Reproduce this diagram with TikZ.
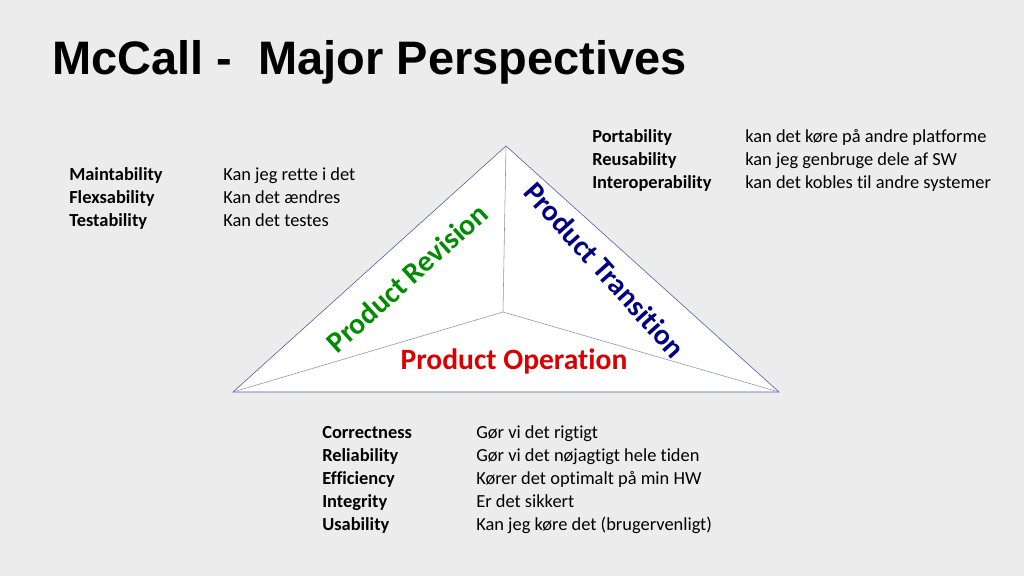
\documentclass[tikz,border=0pt]{standalone}
\usepackage{fontspec}
\setmainfont{Carlito}[Ligatures=NoCommon]
\newfontfamily\titlefont{Liberation Sans}
\begin{document}
\begin{tikzpicture}[x=0.025cm,y=-0.025cm,
  txt/.style={anchor=base west,inner sep=0pt,font=\fontsize{13.1}{16}\selectfont},
  lbl/.style={txt,font=\fontsize{13.1}{16}\selectfont\bfseries},
  side/.style={font=\fontsize{21}{24}\selectfont\bfseries,inner sep=0pt}]
  \fill[gray!15] (0,0) rectangle (1024,576);
  \useasboundingbox (0,0) rectangle (1024,576);
  \node[anchor=west,inner sep=0pt,font=\titlefont\fontsize{33.4}{36}\selectfont\bfseries] (title) at (52,62) {McCall -\ \ Major Perspectives};
  \path
    (506,146) coordinate (T)
    (233,392) coordinate (L)
    (779,392) coordinate (R)
    (503,312) coordinate (M);
  \draw[fill=white,draw=blue!35!gray] (T)--(L)--(R)--cycle;
  \draw[blue!25!gray!70] (M)--(T) (M)--(L) (M)--(R);
  \node[side,text=green!55!black,rotate=42] (rev) at (407,278) {Product Revision};
  \node[side,text=blue!50!black,rotate=-48] (tra) at (605,270) {Product Transition};
  \node[side,text=red!85!black] (ope) at (514,361) {Product Operation};
  % quality factors
  \foreach \n/\b [count=\i] in {Maintability/Kan jeg rette i det,Flexsability/Kan det ændres,Testability/Kan det testes}
    {\node[lbl] (rf\i) at (69,{181+23*(\i-1)}) {\n};
     \node[txt] (rq\i) at (223,{181+23*(\i-1)}) {\b};}
  \foreach \n/\b [count=\i] in {Portability/kan det køre på andre platforme,Reusability/kan jeg genbruge dele af SW,Interoperability/kan det kobles til andre systemer}
    {\node[lbl] (tf\i) at (592,{143+23*(\i-1)}) {\n};
     \node[txt] (tq\i) at (745,{143+23*(\i-1)}) {\b};}
  \foreach \n/\b [count=\i] in {Correctness/Gør vi det rigtigt,Reliability/Gør vi det nøjagtigt hele tiden,Efficiency/Kører det optimalt på min HW,Integrity/Er det sikkert,Usability/Kan jeg køre det (brugervenligt)}
    {\node[lbl] (of\i) at (322,{438+23*(\i-1)}) {\n};
     \node[txt] (oq\i) at (476,{438+23*(\i-1)}) {\b};}
\end{tikzpicture}
\end{document}
